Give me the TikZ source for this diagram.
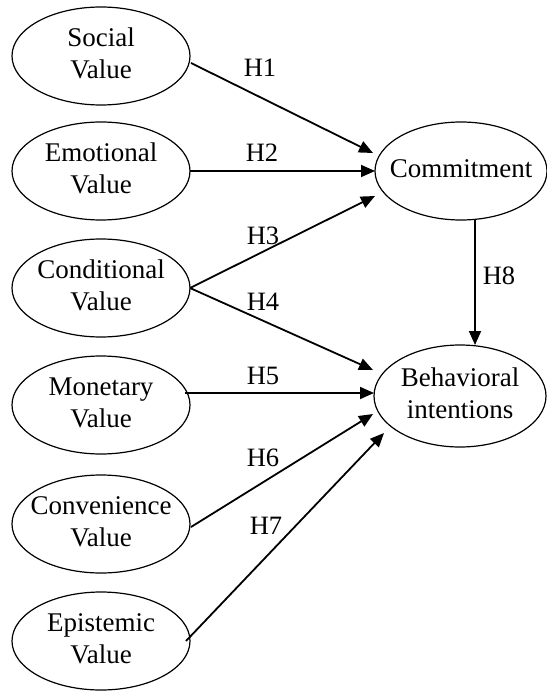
\documentclass[tikz,border=0pt]{standalone}
\usepackage{fontspec}
\setmainfont{Liberation Serif}
\usetikzlibrary{arrows.meta,shapes.geometric}
\newcommand{\twol}[1]{\makebox[0pt]{\begin{tabular}{@{}c@{}}#1\end{tabular}}}
\begin{document}
\begin{tikzpicture}[x=1pt,y=-1pt,
  var/.style={ellipse,draw,line width=1.2pt,inner sep=0pt,outer sep=0pt,
    minimum width=178pt,minimum height=98pt,font=\fontsize{27}{32}\selectfont},
  outv/.style={var,minimum width=172pt},
  arr/.style={line width=1.8pt,-{Triangle[length=14pt,width=12pt]}},
  hlab/.style={font=\fontsize{26.5}{30}\selectfont,inner sep=0pt}]
\useasboundingbox (0,0) rectangle (546,692);
% left constructs
\node[var] (soc)  at (101,56)  {\twol{Social\\Value}};
\node[var] (emo)  at (101,171) {\twol{Emotional\\Value}};
\node[var] (cond) at (101,288) {\twol{Conditional\\Value}};
\node[var] (mon)  at (101,405) {\twol{Monetary\\Value}};
\node[var] (conv) at (101,524) {\twol{Convenience\\Value}};
\node[var] (epi)  at (101,641) {\twol{Epistemic\\Value}};
% right constructs
\node[outv] (com) at (461,171) {\twol{Commitment}};
\node[outv,minimum height=102pt] (beh) at (460,396) {\twol{Behavioral\\intentions}};
% connectors
\draw[arr] ([shift={(90,7)}]soc.center) -- ([shift={(-88,-18)}]com.center);
\draw[arr] (emo.east) -- (com.west);
\draw[arr] (cond.east) -- ([shift={(-86,25)}]com.center);
\draw[arr] (cond.east) -- ([shift={(-87,-26)}]beh.center);
\draw[arr] ([shift={(84,-12)}]mon.center) -- ([shift={(-86,-3)}]beh.center);
\draw[arr] ([shift={(90,3)}]conv.center) -- ([shift={(-87,18)}]beh.center);
\draw[arr] ([shift={(85,0)}]epi.center) -- ([shift={(-76,37)}]beh.center);
\coordinate (hx) at (475,0);
\draw[arr] (com.south -| hx) -- (beh.north -| hx);
% labels
\node[hlab] (h1) at (260,68)  {H1};
\node[hlab] (h2) at (262,153) {H2};
\node[hlab] (h3) at (263,236) {H3};
\node[hlab] (h4) at (263,302) {H4};
\node[hlab] (h5) at (263,376) {H5};
\node[hlab] (h6) at (263,458) {H6};
\node[hlab] (h7) at (266,526) {H7};
\node[hlab] (h8) at (499,276) {H8};
\end{tikzpicture}
\end{document}
